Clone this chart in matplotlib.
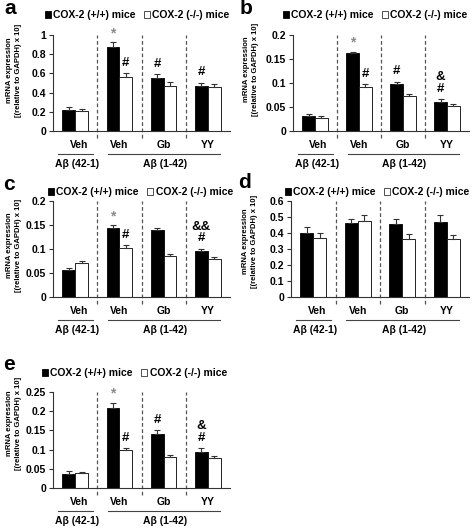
import matplotlib

matplotlib.use("Agg")
import matplotlib.pyplot as plt
from matplotlib.patches import Patch
import numpy as np

plt.rcParams["font.family"] = ["Liberation Sans", "DejaVu Sans"]
plt.rcParams["font.weight"] = "bold"

GROUPS = ["Veh", "Veh", "Gb", "YY"]
SERIES = ["COX-2 (+/+) mice", "COX-2 (-/-) mice"]
YLABEL = "mRNA expression\n[(relative to GAPDH) x 10]"

# panel a
a_wt = [0.22, 0.875, 0.555, 0.465]
a_wt_err = [0.035, 0.05, 0.04, 0.04]
a_ko = [0.205, 0.56, 0.47, 0.455]
a_ko_err = [0.02, 0.04, 0.045, 0.03]
a_marks = [("*", 1, 0), ("#", 1, 1), ("#", 2, 0), ("#", 3, 0)]

# panel b
b_wt = [0.031, 0.162, 0.097, 0.061]
b_wt_err = [0.004, 0.003, 0.006, 0.006]
b_ko = [0.028, 0.092, 0.073, 0.053]
b_ko_err = [0.004, 0.006, 0.005, 0.004]
b_marks = [("*", 1, 0), ("#", 1, 1), ("#", 2, 0), ("&#", 3, 0)]

# panel c
c_wt = [0.057, 0.143, 0.139, 0.095]
c_wt_err = [0.004, 0.006, 0.004, 0.006]
c_ko = [0.071, 0.103, 0.085, 0.080]
c_ko_err = [0.003, 0.006, 0.005, 0.004]
c_marks = [("*", 1, 0), ("#", 1, 1), ("&&#", 3, 0)]

# panel d
d_wt = [0.40, 0.46, 0.455, 0.47]
d_wt_err = [0.035, 0.03, 0.032, 0.045]
d_ko = [0.37, 0.475, 0.36, 0.365]
d_ko_err = [0.03, 0.04, 0.032, 0.024]
d_marks = []

# panel e
e_wt = [0.037, 0.209, 0.141, 0.094]
e_wt_err = [0.006, 0.013, 0.009, 0.009]
e_ko = [0.039, 0.098, 0.081, 0.078]
e_ko_err = [0.003, 0.007, 0.006, 0.006]
e_marks = [("*", 1, 0), ("#", 1, 1), ("#", 2, 0), ("&#", 3, 0)]

YMAX = {"a": 1.0, "b": 0.2, "c": 0.2, "d": 0.6, "e": 0.25}
YSTEP = {"a": 0.2, "b": 0.05, "c": 0.05, "d": 0.1, "e": 0.05}

W, H = 472, 528
BW = 0.29
OFF = 0.145


def fx(x):
    return x / W


def fy(y):
    return 1 - y / H


def panel(fig, letter, box_px, letter_px, legend_px, ylab_px, wt, wt_err, ko, ko_err, marks):
    x0, x1, ytop, ybot = box_px
    ax = fig.add_axes([fx(x0), fy(ybot), (x1 - x0) / W, (ybot - ytop) / H])
    x = np.arange(len(GROUPS))
    ekw = dict(ecolor="#333333", elinewidth=0.8, capsize=2.5, capthick=0.8)
    ax.bar(x - OFF, wt, BW, color="black", edgecolor="black", lw=0.6,
           yerr=[np.zeros(4), wt_err], error_kw=ekw)
    ax.bar(x + OFF, ko, BW, color="white", edgecolor="#222222", lw=0.7,
           yerr=[np.zeros(4), ko_err], error_kw=ekw)
    ymax = YMAX[letter]
    ax.set_xlim(-0.5, 3.5)
    ax.set_ylim(0, ymax)
    ticks = np.arange(0, ymax + 1e-9, YSTEP[letter])
    ax.set_yticks(ticks)
    ax.set_yticklabels([f"{t:g}" for t in np.round(ticks, 3)], fontsize=7.5, fontweight="bold")
    ax.set_xticks([])
    for s in ["top", "right"]:
        ax.spines[s].set_visible(False)
    for s in ["left", "bottom"]:
        ax.spines[s].set_color("#333333")
        ax.spines[s].set_linewidth(0.8)
    ax.tick_params(axis="y", length=3, width=0.8, color="#333333", pad=2)

    xt = ax.get_xaxis_transform()
    ax.vlines([0.5, 1.5, 2.5], -0.07, 1.0, transform=xt, clip_on=False,
              colors="#555555", linestyles=(0, (3, 2)), lw=0.9)

    for i, g in enumerate(GROUPS):
        ax.text(i + (0.08 if i == 0 else 0), -0.15, g, transform=xt, ha="center",
                va="center", fontsize=7.5, fontweight="bold")
    ax.plot([-0.39, 0.40], [-0.235, -0.235], transform=xt, clip_on=False,
            color="#444444", lw=0.8)
    ax.plot([0.74, 3.27], [-0.235, -0.235], transform=xt, clip_on=False,
            color="#444444", lw=0.8)
    ax.text(0.05, -0.34, "Aβ (42-1)", transform=xt, ha="center", va="center",
            fontsize=7.5, fontweight="bold")
    ax.text(2.03, -0.34, "Aβ (1-42)", transform=xt, ha="center", va="center",
            fontsize=7.5, fontweight="bold")

    fig.text(fx(ylab_px[0]), fy(ylab_px[1]), YLABEL, rotation=90, ha="center",
             va="center", fontsize=5.5, fontweight="bold", linespacing=1.55,
             multialignment="center")

    for sym, gi, si in marks:
        if si == 0:
            xp, top = gi - OFF, wt[gi] + wt_err[gi]
        else:
            xp, top = gi + OFF, ko[gi] + ko_err[gi]
        if sym == "*":
            ax.annotate("*", (xp, top), xytext=(0, 1.5), textcoords="offset points",
                        ha="center", va="bottom", fontsize=10, color="#8a8a8a",
                        fontweight="bold")
        else:
            ax.annotate("#", (xp, top), xytext=(0, 3), textcoords="offset points",
                        ha="center", va="bottom", fontsize=9.5, fontweight="bold")
            if sym.startswith("&"):
                ax.annotate(sym[:-1], (xp, top), xytext=(0, 11.5), textcoords="offset points",
                            ha="center", va="bottom", fontsize=9.5, fontweight="bold")

    handles = [Patch(facecolor="black", edgecolor="black", lw=0.6),
               Patch(facecolor="white", edgecolor="#333333", lw=0.6)]
    ax.legend(handles, SERIES, ncol=2, loc="center left",
              bbox_to_anchor=(fx(legend_px[0]), fy(legend_px[1])),
              bbox_transform=fig.transFigure,
              frameon=False, handlelength=0.6, handleheight=0.6, handletextpad=0.2,
              columnspacing=0.8, borderaxespad=0, borderpad=0,
              prop={"size": 7.5, "weight": "bold"})
    fig.text(fx(letter_px[0]), fy(letter_px[1]), letter, fontsize=15,
             fontweight="bold", ha="left", va="baseline")
    return ax


fig = plt.figure(figsize=(4.72, 5.28), dpi=100)
panel(fig, "a", (53, 230, 35, 131), (4, 14), (45, 15), (14, 70),
      a_wt, a_wt_err, a_ko, a_ko_err, a_marks)
panel(fig, "b", (293, 469, 35, 131), (240, 14), (283, 15), (251, 69),
      b_wt, b_wt_err, b_ko, b_ko_err, b_marks)
panel(fig, "c", (53, 230, 201, 297), (3, 190), (48, 192), (14, 245),
      c_wt, c_wt_err, c_ko, c_ko_err, c_marks)
panel(fig, "d", (291, 469, 201, 297), (238, 188), (285, 192), (250, 241),
      d_wt, d_wt_err, d_ko, d_ko_err, d_marks)
panel(fig, "e", (53, 230, 392, 488), (3, 370), (42, 373), (14, 423),
      e_wt, e_wt_err, e_ko, e_ko_err, e_marks)

fig.savefig("out.png", dpi=100)
